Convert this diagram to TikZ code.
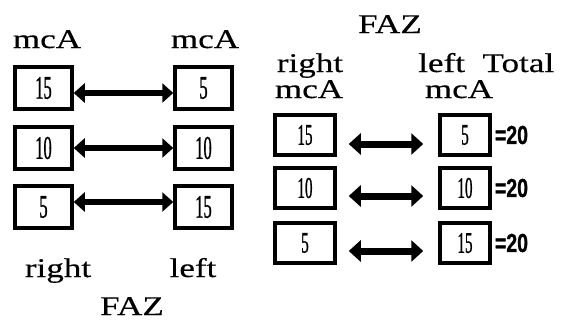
\documentclass[tikz,border=0pt]{standalone}
\usepackage{fontspec}
\usetikzlibrary{arrows.meta}
\setmainfont{Liberation Serif}
\newfontfamily\widefont[FakeStretch=1.3,FakeBold=0.4]{Liberation Serif}
\newfontfamily\narrowfont[FakeStretch=0.5,FakeBold=0.8]{Liberation Serif}
\newfontfamily\eqfont[FakeStretch=0.75,FakeBold=1]{Liberation Sans Bold}
\begin{document}
\begin{tikzpicture}[x=1pt,y=-1pt,
  lbl/.style={font=\widefont\fontsize{27}{27}\selectfont, inner sep=0pt, anchor=base},
  numbox/.style={draw, line width=3.5pt, minimum width=57pt, minimum height=42pt, inner sep=0pt, font=\narrowfont\fontsize{33}{33}\selectfont},
  numboxb/.style={draw, line width=3.5pt, minimum height=40pt, inner sep=0pt, font=\narrowfont\fontsize{30}{30}\selectfont},
  eqlbl/.style={font=\eqfont\fontsize{26}{26}\selectfont, inner sep=0pt, anchor=west},
  dbl/.style={line width=6pt, {Triangle[length=11pt,width=19pt]}-{Triangle[length=11pt,width=19pt]}},
  dblb/.style={line width=7pt, {Triangle[length=12pt,width=21pt]}-{Triangle[length=12pt,width=21pt]}}]
\useasboundingbox (0,0) rectangle (565,322);
% left panel
\node[lbl] (lmA) at (47,48) {mcA};
\node[lbl] (lmB) at (205,48) {mcA};
\node[numbox] (a1) at (43.5,88) {15};
\node[numbox] (b1) at (203.5,88) {5};
\node[numbox] (a2) at (43.5,148) {10};
\node[numbox] (b2) at (203.5,148) {10};
\node[numbox] (a3) at (43.5,207) {5};
\node[numbox] (b3) at (203.5,207) {15};
\draw[dbl] ([yshift=-5pt]a1.east) -- ([yshift=-5pt]b1.west);
\draw[dbl] (a2.east) -- (b2.west);
\draw[dbl] ([yshift=5pt]a3.east) -- ([yshift=5pt]b3.west);
\node[lbl] (lr) at (58,277) {right};
\node[lbl] (ll) at (193,277) {left};
\node[lbl] (lf) at (132,315) {FAZ};
% right panel
\node[lbl] (rf) at (390,33) {FAZ};
\node[lbl] (rr) at (310,72) {right};
\node[lbl, anchor=base west] (rl) at (418,72) {left\ \ Total};
\node[lbl] (rmA) at (309,98) {mcA};
\node[lbl] (rmB) at (459,98) {mcA};
\node[numboxb, minimum width=60pt] (c1) at (305,135) {15};
\node[numboxb, minimum width=50pt] (d1) at (465,135) {5};
\node[numboxb, minimum width=60pt] (c2) at (305,188) {10};
\node[numboxb, minimum width=50pt] (d2) at (465,188) {10};
\node[numboxb, minimum width=60pt] (c3) at (305,243) {5};
\node[numboxb, minimum width=50pt] (d3) at (465,243) {15};
\draw[dblb] ([xshift=12pt,yshift=-9pt]c1.east) -- ([xshift=-15pt,yshift=-9pt]d1.west);
\draw[dblb] ([xshift=12pt,yshift=-8pt]c2.east) -- ([xshift=-15pt,yshift=-8pt]d2.west);
\draw[dblb] ([xshift=12pt,yshift=-8pt]c3.east) -- ([xshift=-15pt,yshift=-8pt]d3.west);
\node[eqlbl] (e1) at ([xshift=3pt]d1.east) {=20};
\node[eqlbl] (e2) at ([xshift=3pt]d2.east) {=20};
\node[eqlbl] (e3) at ([xshift=3pt]d3.east) {=20};
\end{tikzpicture}
\end{document}
